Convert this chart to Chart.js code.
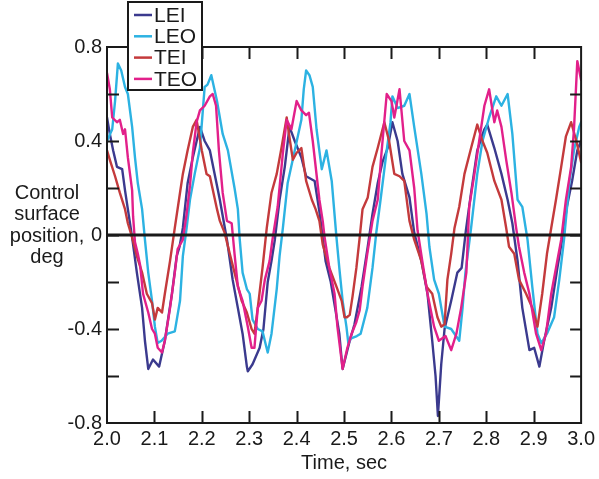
<!DOCTYPE html>
<html>
<head>
<meta charset="utf-8">
<script src="https://cdn.jsdelivr.net/npm/chart.js@4.4.1/dist/chart.umd.min.js"></script>
<style>
    html, body { margin: 0; padding: 0; background: #fff; }
    #wrap { width: 599px; height: 479px; }
</style>
</head>
<body>
<div id="wrap"><canvas id="surfaceChart" width="599" height="479"></canvas></div>
<script>
/* ==============================
   DATA
================================= */

const seriesNames = ['LEI', 'LEO', 'TEI', 'TEO'];
const seriesColors = ['#3b3a8e', '#2cb2e2', '#c43a3c', '#e2208a'];

const leiTime = [2.000, 2.006, 2.013, 2.021, 2.032, 2.038, 2.044, 2.053, 2.063, 2.074, 2.080, 2.087, 2.097, 2.110, 2.122, 2.137, 2.147, 2.153, 2.160, 2.170, 2.181, 2.196, 2.206, 2.217, 2.238, 2.253, 2.265, 2.276, 2.286, 2.295, 2.297, 2.307, 2.322, 2.330, 2.339, 2.347, 2.354, 2.364, 2.375, 2.385, 2.396, 2.410, 2.420, 2.438, 2.448, 2.455, 2.461, 2.472, 2.482, 2.490, 2.495, 2.497, 2.512, 2.522, 2.537, 2.550, 2.560, 2.571, 2.581, 2.592, 2.602, 2.613, 2.623, 2.638, 2.648, 2.663, 2.676, 2.686, 2.693, 2.698, 2.705, 2.712, 2.726, 2.739, 2.748, 2.757, 2.768, 2.781, 2.796, 2.802, 2.817, 2.832, 2.845, 2.855, 2.866, 2.876, 2.891, 2.901, 2.912, 2.922, 2.937, 2.950, 2.960, 2.970, 2.981, 2.992, 3.000];
const leiValue = [0.50, 0.43, 0.36, 0.29, 0.28, 0.19, 0.11, -0.01, -0.16, -0.31, -0.45, -0.57, -0.53, -0.56, -0.45, -0.25, -0.09, -0.05, 0.03, 0.22, 0.33, 0.46, 0.40, 0.36, 0.15, -0.02, -0.19, -0.31, -0.42, -0.56, -0.58, -0.55, -0.48, -0.40, -0.20, -0.11, -0.02, 0.15, 0.29, 0.46, 0.40, 0.33, 0.25, 0.23, 0.10, -0.01, -0.11, -0.20, -0.32, -0.42, -0.53, -0.57, -0.45, -0.38, -0.22, -0.05, 0.09, 0.22, 0.31, 0.37, 0.48, 0.40, 0.26, 0.16, 0.01, -0.11, -0.25, -0.45, -0.60, -0.77, -0.55, -0.40, -0.28, -0.16, -0.14, 0.02, 0.18, 0.36, 0.45, 0.47, 0.37, 0.26, 0.15, 0.05, -0.11, -0.31, -0.49, -0.48, -0.56, -0.45, -0.31, -0.14, -0.02, 0.12, 0.23, 0.36, 0.40];

const leoTime = [2.000, 2.011, 2.017, 2.023, 2.030, 2.038, 2.044, 2.053, 2.059, 2.065, 2.074, 2.080, 2.087, 2.095, 2.101, 2.107, 2.115, 2.128, 2.143, 2.154, 2.160, 2.168, 2.175, 2.185, 2.196, 2.206, 2.212, 2.220, 2.232, 2.244, 2.255, 2.269, 2.276, 2.280, 2.286, 2.295, 2.301, 2.307, 2.318, 2.328, 2.339, 2.347, 2.358, 2.364, 2.371, 2.381, 2.396, 2.410, 2.415, 2.420, 2.427, 2.434, 2.442, 2.453, 2.463, 2.474, 2.484, 2.490, 2.497, 2.505, 2.509, 2.515, 2.527, 2.535, 2.549, 2.560, 2.568, 2.577, 2.590, 2.598, 2.602, 2.613, 2.627, 2.638, 2.648, 2.663, 2.674, 2.680, 2.690, 2.700, 2.712, 2.726, 2.743, 2.750, 2.756, 2.768, 2.781, 2.792, 2.806, 2.821, 2.832, 2.845, 2.855, 2.866, 2.876, 2.887, 2.897, 2.908, 2.916, 2.928, 2.943, 2.954, 2.964, 2.975, 2.985, 2.996, 3.000];
const leoValue = [0.40, 0.45, 0.57, 0.73, 0.70, 0.63, 0.60, 0.46, 0.33, 0.22, 0.11, -0.02, -0.16, -0.28, -0.39, -0.46, -0.45, -0.42, -0.41, -0.28, -0.09, 0.03, 0.15, 0.26, 0.37, 0.63, 0.64, 0.68, 0.57, 0.43, 0.36, 0.20, 0.11, -0.02, -0.16, -0.23, -0.25, -0.36, -0.40, -0.41, -0.50, -0.42, -0.23, -0.09, 0.03, 0.22, 0.36, 0.49, 0.62, 0.70, 0.68, 0.63, 0.45, 0.28, 0.36, 0.23, -0.01, -0.14, -0.28, -0.39, -0.46, -0.44, -0.43, -0.42, -0.31, -0.14, 0.01, 0.15, 0.36, 0.48, 0.59, 0.54, 0.55, 0.60, 0.46, 0.26, 0.09, -0.05, -0.19, -0.25, -0.39, -0.40, -0.45, -0.31, -0.16, 0.03, 0.26, 0.40, 0.50, 0.59, 0.55, 0.60, 0.43, 0.15, 0.12, -0.02, -0.22, -0.42, -0.46, -0.42, -0.35, -0.19, -0.02, 0.22, 0.36, 0.46, 0.48];

const teiTime = [2.000, 2.006, 2.017, 2.027, 2.038, 2.044, 2.053, 2.063, 2.074, 2.084, 2.095, 2.101, 2.107, 2.116, 2.122, 2.133, 2.143, 2.154, 2.160, 2.170, 2.181, 2.189, 2.200, 2.210, 2.217, 2.232, 2.238, 2.248, 2.259, 2.269, 2.284, 2.295, 2.305, 2.311, 2.318, 2.328, 2.337, 2.347, 2.358, 2.368, 2.379, 2.386, 2.392, 2.400, 2.410, 2.420, 2.432, 2.440, 2.448, 2.455, 2.469, 2.484, 2.495, 2.501, 2.506, 2.512, 2.518, 2.526, 2.533, 2.539, 2.550, 2.560, 2.571, 2.585, 2.595, 2.606, 2.617, 2.627, 2.638, 2.648, 2.663, 2.674, 2.686, 2.697, 2.705, 2.712, 2.718, 2.726, 2.733, 2.743, 2.754, 2.768, 2.781, 2.792, 2.802, 2.817, 2.832, 2.842, 2.848, 2.859, 2.869, 2.884, 2.897, 2.908, 2.918, 2.928, 2.937, 2.947, 2.958, 2.968, 2.979, 2.990, 3.000];
const teiValue = [0.36, 0.32, 0.25, 0.18, 0.11, 0.05, -0.01, -0.09, -0.16, -0.25, -0.29, -0.36, -0.31, -0.33, -0.25, -0.11, 0.03, 0.18, 0.26, 0.36, 0.46, 0.49, 0.36, 0.26, 0.25, 0.11, 0.06, 0.01, -0.08, -0.16, -0.28, -0.33, -0.40, -0.42, -0.31, -0.14, 0.03, 0.18, 0.26, 0.37, 0.50, 0.40, 0.32, 0.35, 0.37, 0.23, 0.15, 0.11, 0.06, -0.04, -0.14, -0.22, -0.28, -0.35, -0.35, -0.34, -0.26, -0.14, -0.01, 0.11, 0.16, 0.29, 0.37, 0.48, 0.40, 0.26, 0.25, 0.23, 0.06, -0.02, -0.11, -0.22, -0.25, -0.35, -0.39, -0.38, -0.19, -0.08, 0.03, 0.12, 0.26, 0.37, 0.47, 0.40, 0.35, 0.23, 0.15, 0.03, -0.05, -0.08, -0.19, -0.25, -0.31, -0.39, -0.25, -0.08, 0.03, 0.15, 0.29, 0.42, 0.48, 0.40, 0.31];

const teoTime = [2.000, 2.002, 2.006, 2.011, 2.021, 2.027, 2.034, 2.038, 2.044, 2.053, 2.055, 2.059, 2.065, 2.070, 2.076, 2.087, 2.095, 2.101, 2.107, 2.116, 2.122, 2.133, 2.143, 2.149, 2.160, 2.168, 2.175, 2.181, 2.189, 2.196, 2.206, 2.217, 2.223, 2.230, 2.236, 2.244, 2.253, 2.263, 2.269, 2.276, 2.286, 2.297, 2.305, 2.311, 2.318, 2.326, 2.333, 2.343, 2.349, 2.360, 2.371, 2.379, 2.389, 2.400, 2.410, 2.420, 2.426, 2.434, 2.448, 2.455, 2.459, 2.469, 2.480, 2.486, 2.497, 2.507, 2.516, 2.526, 2.533, 2.539, 2.549, 2.560, 2.571, 2.579, 2.590, 2.600, 2.606, 2.617, 2.627, 2.638, 2.648, 2.655, 2.665, 2.676, 2.690, 2.700, 2.714, 2.726, 2.737, 2.747, 2.758, 2.764, 2.775, 2.785, 2.796, 2.806, 2.817, 2.823, 2.832, 2.842, 2.853, 2.863, 2.869, 2.880, 2.891, 2.905, 2.916, 2.926, 2.937, 2.947, 2.958, 2.968, 2.979, 2.985, 2.992, 3.000];
const teoValue = [0.69, 0.69, 0.62, 0.50, 0.48, 0.49, 0.43, 0.45, 0.33, 0.19, 0.08, -0.03, -0.08, -0.13, -0.25, -0.33, -0.40, -0.42, -0.48, -0.50, -0.45, -0.31, -0.16, -0.06, -0.02, 0.09, 0.21, 0.35, 0.48, 0.53, 0.55, 0.59, 0.60, 0.55, 0.36, 0.18, 0.06, 0.05, -0.08, -0.22, -0.28, -0.39, -0.48, -0.48, -0.31, -0.28, -0.19, -0.11, -0.02, 0.12, 0.35, 0.49, 0.45, 0.57, 0.53, 0.51, 0.52, 0.40, 0.15, 0.06, -0.01, -0.14, -0.25, -0.39, -0.57, -0.48, -0.42, -0.37, -0.32, -0.22, -0.08, 0.06, 0.15, 0.35, 0.60, 0.57, 0.50, 0.62, 0.40, 0.36, 0.20, 0.02, -0.11, -0.25, -0.39, -0.45, -0.43, -0.49, -0.42, -0.31, -0.16, 0.12, 0.26, 0.40, 0.55, 0.62, 0.48, 0.53, 0.46, 0.32, 0.18, 0.03, -0.05, -0.16, -0.25, -0.42, -0.49, -0.42, -0.25, -0.14, -0.02, 0.15, 0.29, 0.45, 0.74, 0.66];

const seriesTimes = [leiTime, leoTime, teiTime, teoTime];
const seriesValues = [leiValue, leoValue, teiValue, teoValue];

const xMin = 2.0, xMax = 3.0, xStep = 0.1;
const yMin = -0.8, yMax = 0.8, yStep = 0.2;
const yLabelValues = [-0.8, -0.4, 0, 0.4, 0.8];
const yTitleLines = ['Control', 'surface', 'position,', 'deg'];
const xTitle = 'Time, sec';

const FONT = '"Liberation Sans", Arial, Helvetica, sans-serif';
const INK = '#1a1a1a';

/* ==============================
   FRAME + INNER TICKS + LEGEND
================================= */

const framePlugin = {
    id: 'frame',
    afterDatasetsDraw(chart) {
        const { ctx, chartArea: a, scales } = chart;
        const xs = scales.x, ys = scales.y;
        ctx.save();
        ctx.strokeStyle = INK;
        ctx.lineWidth = 2;

        // inward ticks on all four sides
        ctx.beginPath();
        for (let i = 1; i < Math.round((xMax - xMin) / xStep); i++) {
            const px = Math.round(xs.getPixelForValue(xMin + i * xStep)) + 0.5;
            ctx.moveTo(px, a.bottom); ctx.lineTo(px, a.bottom - 12);
            ctx.moveTo(px, a.top); ctx.lineTo(px, a.top + 12);
        }
        for (let i = 1; i < Math.round((yMax - yMin) / yStep); i++) {
            const py = Math.round(ys.getPixelForValue(yMin + i * yStep)) + 0.5;
            ctx.moveTo(a.left, py); ctx.lineTo(a.left + 12, py);
            ctx.moveTo(a.right, py); ctx.lineTo(a.right - 11, py);
        }
        ctx.stroke();

        // zero line
        const zy = ys.getPixelForValue(0);
        ctx.lineWidth = 3;
        ctx.beginPath();
        ctx.moveTo(a.left, zy);
        ctx.lineTo(a.right, zy);
        ctx.stroke();

        // frame
        ctx.lineWidth = 2;
        ctx.strokeRect(a.left, a.top, a.right - a.left, a.bottom - a.top);
        ctx.restore();
    },
    afterDraw(chart) {
        const { ctx } = chart;
        ctx.save();

        // horizontal y title
        ctx.fillStyle = INK;
        ctx.font = '20px ' + FONT;
        ctx.textAlign = 'center';
        ctx.textBaseline = 'middle';
        yTitleLines.forEach((line, i) => {
            ctx.fillText(line, 47, 193 + i * 21.5);
        });

        // legend box
        ctx.fillStyle = '#fff';
        ctx.fillRect(128, 2, 74, 88);
        ctx.strokeStyle = INK;
        ctx.lineWidth = 2;
        ctx.strokeRect(128, 2, 74, 88);

        chart.data.datasets.forEach((ds, i) => {
            const y = 15 + i * 21.3;
            ctx.strokeStyle = ds.borderColor;
            ctx.lineWidth = 2.5;
            ctx.beginPath();
            ctx.moveTo(134, y);
            ctx.lineTo(152, y);
            ctx.stroke();
            ctx.fillStyle = INK;
            ctx.textAlign = 'left';
            ctx.font = '21px ' + FONT;
            ctx.fillText(ds.label, 154, y + 1);
        });
        ctx.restore();
    }
};

/* ==============================
   CHART
================================= */

const datasets = seriesNames.map((name, i) => ({
    label: name,
    data: seriesTimes[i].map((t, j) => ({ x: t, y: seriesValues[i][j] })),
    borderColor: seriesColors[i],
    backgroundColor: seriesColors[i],
    borderWidth: 2.4,
    borderJoinStyle: 'round',
    borderCapStyle: 'round',
    pointRadius: 0,
    tension: 0,
    order: seriesNames.length - i
}));

new Chart(document.getElementById('surfaceChart').getContext('2d'), {
    type: 'line',
    data: { datasets },
    plugins: [framePlugin],
    options: {
        responsive: false,
        animation: false,
        devicePixelRatio: 1,
        layout: { padding: { left: 0, top: 47, right: 16, bottom: 0 } },
        plugins: {
            legend: { display: false },
            tooltip: { enabled: false }
        },
        scales: {
            x: {
                type: 'linear',
                min: xMin,
                max: xMax,
                afterFit: (scale) => { scale.height = 56; },
                grid: { display: false, drawTicks: false },
                border: { display: false },
                ticks: {
                    stepSize: xStep,
                    padding: 4,
                    maxRotation: 0,
                    color: INK,
                    font: { family: FONT, size: 20 },
                    callback: (v) => Number(v).toFixed(1)
                },
                title: {
                    display: true,
                    text: xTitle,
                    color: INK,
                    font: { family: FONT, size: 20 },
                    padding: { top: 0, bottom: 4 }
                }
            },
            y: {
                type: 'linear',
                min: yMin,
                max: yMax,
                afterFit: (scale) => { scale.width = 107; },
                grid: { display: false, drawTicks: false },
                border: { display: false },
                ticks: {
                    stepSize: yStep,
                    padding: 5,
                    color: INK,
                    font: { family: FONT, size: 20 },
                    callback: (v) => {
                        const hit = yLabelValues.find(l => Math.abs(l - v) < 1e-6);
                        if (hit === undefined) return '';
                        return hit === 0 ? '0' : hit.toFixed(1);
                    }
                }
            }
        }
    }
});
</script>
</body>
</html>
